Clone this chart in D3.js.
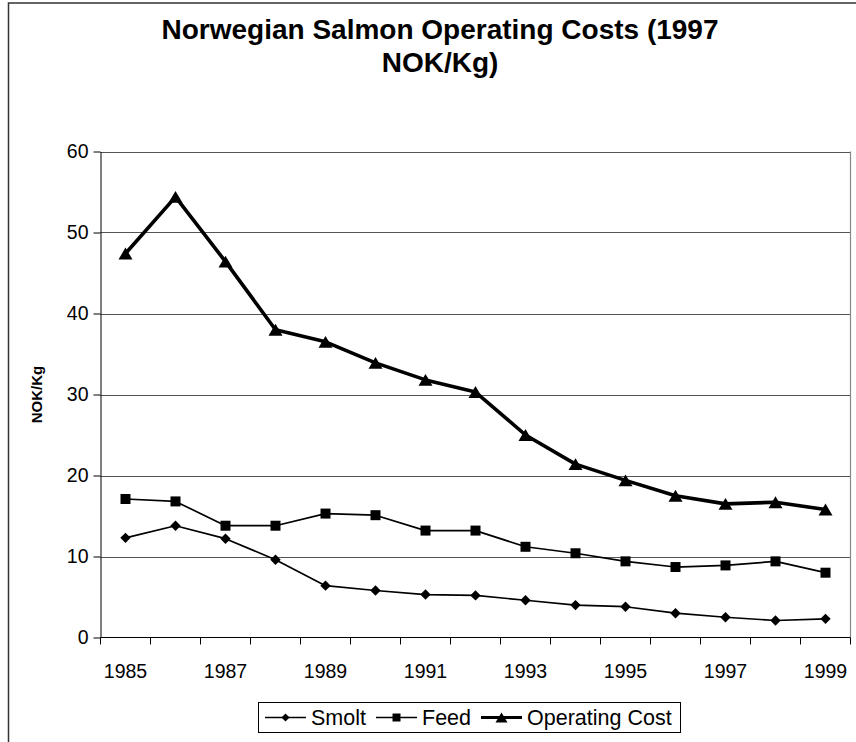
<!DOCTYPE html>
<html>
<head>
<meta charset="utf-8">
<script src="https://cdn.jsdelivr.net/npm/d3@7"></script>
<style>
  html, body { margin: 0; padding: 0; background: #fff; }
  svg { display: block; }
  text { font-family: "Liberation Sans", Arial, sans-serif; fill: #000; }
</style>
</head>
<body>
<svg id="chart" width="856" height="742"></svg>
<script>
// Norwegian salmon farming operating costs, 1997 NOK per kg
const years = [1985, 1986, 1987, 1988, 1989, 1990, 1991, 1992, 1993, 1994, 1995, 1996, 1997, 1998, 1999];
const smolt = [12.3, 13.8, 12.2, 9.6, 6.4, 5.8, 5.3, 5.2, 4.6, 4.0, 3.8, 3.0, 2.5, 2.1, 2.3];
const feed = [17.1, 16.8, 13.8, 13.8, 15.3, 15.1, 13.2, 13.2, 11.2, 10.4, 9.4, 8.7, 8.9, 9.4, 8.0];
const operatingCost = [47.4, 54.4, 46.4, 38.0, 36.5, 33.9, 31.8, 30.3, 25.0, 21.4, 19.4, 17.5, 16.5, 16.7, 15.8];
const yTicks = [0, 10, 20, 30, 40, 50, 60];
const xTickLabels = [1985, 1987, 1989, 1991, 1993, 1995, 1997, 1999];
const seriesNames = ["Smolt", "Feed", "Operating Cost"];

const svg = d3.select("#chart");

const plot = { left: 100.5, right: 850.5, top: 151.5, bottom: 637.5 };

const x = d3.scaleBand().domain(years).range([plot.left, plot.right]);
const y = d3.scaleLinear().domain([0, 60]).range([plot.bottom, plot.top]);
const cx = yr => x(yr) + x.bandwidth() / 2;

// outer chart frame (runs off the right and bottom edges)
svg.append("rect")
  .attr("x", 8.5).attr("y", 3).attr("width", 900).attr("height", 800)
  .attr("fill", "#fff").attr("stroke", "#333").attr("stroke-width", 1.5);

// title
const title = svg.append("text")
  .attr("text-anchor", "middle")
  .attr("font-size", 28).attr("font-weight", "bold");
title.append("tspan").attr("x", 440).attr("y", 39).text("Norwegian Salmon Operating Costs (1997");
title.append("tspan").attr("x", 440).attr("y", 72).text("NOK/Kg)");

// gridlines
svg.append("g").selectAll("line")
  .data(yTicks.filter(d => d > 0))
  .join("line")
  .attr("x1", plot.left).attr("x2", plot.right)
  .attr("y1", d => Math.round(y(d)) + 0.5).attr("y2", d => Math.round(y(d)) + 0.5)
  .attr("stroke", "#555").attr("stroke-width", 1);

// plot area right border
svg.append("line")
  .attr("x1", plot.right).attr("x2", plot.right)
  .attr("y1", plot.top).attr("y2", plot.bottom)
  .attr("stroke", "#888").attr("stroke-width", 1.2);

// y axis
const yAxis = d3.axisLeft(y).tickValues(yTicks).tickSize(7).tickPadding(5).tickSizeOuter(0);
const gy = svg.append("g")
  .attr("transform", `translate(${plot.left},0)`)
  .call(yAxis);
gy.selectAll("text").attr("font-size", 19.5).attr("font-family", "Liberation Sans, Arial, sans-serif").attr("fill", "#000");
gy.selectAll("line, path").attr("stroke", "#000");

// x axis: ticks sit between categories, labels on every other year
const gx = svg.append("g").attr("transform", `translate(0,${plot.bottom})`);
const boundaries = years.map(d => x(d)).concat([plot.right]);
gx.append("line")
  .attr("x1", plot.left).attr("x2", plot.right)
  .attr("y1", 0).attr("y2", 0)
  .attr("stroke", "#000");
gx.selectAll("line.tick")
  .data(boundaries)
  .join("line")
  .attr("class", "tick")
  .attr("x1", d => d).attr("x2", d => d)
  .attr("y1", 0).attr("y2", 7)
  .attr("stroke", "#000");
gx.selectAll("text")
  .data(xTickLabels)
  .join("text")
  .attr("x", d => cx(d)).attr("y", 40)
  .attr("text-anchor", "middle")
  .attr("font-size", 19.5)
  .text(d => d);

// y axis title
svg.append("text")
  .attr("transform", `translate(42,${y(30)}) rotate(-90)`)
  .attr("text-anchor", "middle")
  .attr("font-size", 15).attr("font-weight", "bold")
  .text("NOK/Kg");

// marker shapes
const markers = {
  diamond: s => `M0,${-s}L${s},0L0,${s}L${-s},0Z`,
  square: s => `M${-s},${-s}H${s}V${s}H${-s}Z`,
  triangle: s => `M0,${-s * 0.85}L${s},${s * 0.85}L${-s},${s * 0.85}Z`
};

const series = [
  { name: seriesNames[0], values: smolt, width: 1.7, marker: "diamond", size: 5.2, legendSize: 4 },
  { name: seriesNames[1], values: feed, width: 1.7, marker: "square", size: 5, legendSize: 4 },
  { name: seriesNames[2], values: operatingCost, width: 3.6, marker: "triangle", size: 7, legendSize: 6 }
];

const line = d3.line().x(d => cx(d.year)).y(d => y(d.value));

series.forEach(s => {
  const pts = years.map((yr, i) => ({ year: yr, value: s.values[i] }));
  const g = svg.append("g");
  g.append("path")
    .datum(pts)
    .attr("d", line)
    .attr("fill", "none")
    .attr("stroke", "#000")
    .attr("stroke-width", s.width)
    .attr("stroke-linejoin", "round");
  g.selectAll("path.marker")
    .data(pts)
    .join("path")
    .attr("class", "marker")
    .attr("transform", d => `translate(${cx(d.year)},${y(d.value)})`)
    .attr("d", markers[s.marker](s.size))
    .attr("fill", "#000");
});

// legend
const legend = svg.append("g");
legend.append("rect")
  .attr("x", 258.5).attr("y", 702.5).attr("width", 422).attr("height", 30)
  .attr("fill", "#fff").attr("stroke", "#000").attr("stroke-width", 1);
const legendItems = [
  { x0: 265, x1: 306, tx: 311 },
  { x0: 376, x1: 417, tx: 422 },
  { x0: 481, x1: 522, tx: 527 }
];
series.forEach((s, i) => {
  const it = legendItems[i];
  const ly = 717.5;
  legend.append("line")
    .attr("x1", it.x0).attr("x2", it.x1)
    .attr("y1", ly).attr("y2", ly)
    .attr("stroke", "#000").attr("stroke-width", s.width * 0.85);
  legend.append("path")
    .attr("transform", `translate(${(it.x0 + it.x1) / 2},${ly})`)
    .attr("d", markers[s.marker](s.legendSize))
    .attr("fill", "#000");
  legend.append("text")
    .attr("x", it.tx).attr("y", ly)
    .attr("dy", "0.36em")
    .attr("font-size", 21.5)
    .text(s.name);
});
</script>
</body>
</html>
